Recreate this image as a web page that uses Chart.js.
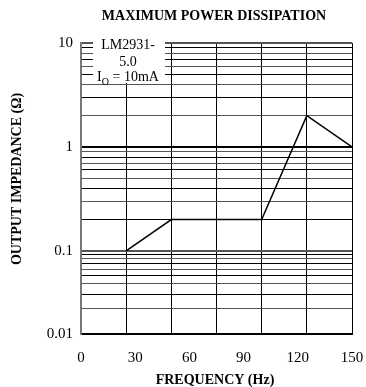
<!DOCTYPE html>
<html>
<head>
<meta charset="utf-8">
<script src="https://cdn.jsdelivr.net/npm/chart.js@4"></script>
<style>
  html, body { margin: 0; padding: 0; background: #fff; }
  #wrap { width: 366px; height: 387px; position: relative; }
</style>
</head>
<body>
<div id="wrap"><canvas id="chart"></canvas></div>
<script>
const frequency = [25, 50, 100, 125, 150];
const impedance = [0.1, 0.2, 0.2, 2, 1];
const xLabelTicks = [0, 30, 60, 90, 120, 150];
const xGridTicks = [0, 25, 50, 75, 100, 125, 150];
const yDecades = [0.01, 0.1, 1, 10];
const noteLines = ['LM2931-', '5.0', 'I_O = 10mA'];
const chartTitle = 'MAXIMUM POWER DISSIPATION';
const xTitle = 'FREQUENCY (Hz)';
const yTitle = 'OUTPUT IMPEDANCE (Ω)';

const serif = "'Liberation Serif', 'Times New Roman', serif";

// the printed graph squeezes its lowest decade (0.01 - 0.1) to 80% height
const squash = (v) => (v >= 0.1 ? v : Math.pow(10, -1 + 0.8 * (Math.log10(v) + 1)));
const yMin = squash(yDecades[0]);

// every 1..9 step inside each decade, for the log grid
const yGridTicks = [];
for (let d = 0; d < yDecades.length - 1; d++) {
  for (let m = 1; m < 10; m++) yGridTicks.push(squash(+(yDecades[d] * m).toPrecision(3)));
}
yGridTicks.push(yDecades[yDecades.length - 1]);

const near = (a, b) => Math.abs(a - b) < b * 1e-6;
const decadeLabel = (v) => {
  if (near(v, yMin)) return String(yDecades[0]);
  const d = yDecades.find((x) => near(v, x));
  return d ? String(d) : '';
};

const textPlugin = {
  id: 'texts',
  afterDatasetsDraw(chart) {
    const ctx = chart.ctx;
    const area = chart.chartArea;
    ctx.save();
    ctx.fillStyle = '#000';
    ctx.textAlign = 'center';
    ctx.textBaseline = 'middle';
    ctx.font = 'bold 14px ' + serif;
    ctx.fillText(chartTitle, 214, 16);
    ctx.fillText(xTitle, 215, 380);
    ctx.save();
    ctx.translate(17, 179);
    ctx.rotate(-Math.PI / 2);
    ctx.fillText(yTitle, 0, 0);
    ctx.restore();

    // note box in the top left corner of the plot
    ctx.fillStyle = '#fff';
    ctx.fillRect(93, 37, 72, 46);
    ctx.fillStyle = '#000';
    ctx.font = '14px ' + serif;
    ctx.fillText(noteLines[0], 128, 45);
    ctx.fillText(noteLines[1], 128, 62);
    // I with subscript O
    const parts = noteLines[2].split('_');
    const rest = parts[1].slice(1);
    ctx.textAlign = 'left';
    const wI = ctx.measureText(parts[0]).width;
    ctx.font = '10px ' + serif;
    const wO = ctx.measureText('O').width;
    ctx.font = '14px ' + serif;
    const wRest = ctx.measureText(rest).width;
    const x = 128 - (wI + wO + wRest) / 2;
    ctx.fillText(parts[0], x, 77);
    ctx.font = '10px ' + serif;
    ctx.fillText('O', x + wI, 82);
    ctx.font = '14px ' + serif;
    ctx.fillText(rest, x + wI + wO, 77);
    ctx.restore();
  }
};

new Chart(document.getElementById('chart'), {
  type: 'line',
  data: {
    datasets: [{
      data: frequency.map((f, i) => ({ x: f, y: impedance[i] })),
      borderColor: '#000',
      borderWidth: 1.5,
      pointRadius: 0,
      tension: 0,
      fill: false
    }]
  },
  options: {
    responsive: true,
    maintainAspectRatio: false,
    animation: false,
    layout: { padding: { left: 0, right: 14, top: 43, bottom: 0 } },
    plugins: {
      legend: { display: false },
      tooltip: { enabled: false },
      title: { display: false }
    },
    scales: {
      x: {
        type: 'linear',
        position: 'bottom',
        min: 0,
        max: 150,
        afterBuildTicks: (scale) => { scale.ticks = xGridTicks.map((v) => ({ value: v })); },
        ticks: { display: false },
        grid: { color: '#000', lineWidth: 1, drawTicks: false },
        border: { color: '#000', width: 2 },
        afterFit: (scale) => { scale.height = 0; scale.paddingLeft = 0; scale.paddingRight = 0; }
      },
      x2: {
        type: 'linear',
        position: 'bottom',
        min: 0,
        max: 150,
        afterBuildTicks: (scale) => { scale.ticks = xLabelTicks.map((v) => ({ value: v })); },
        ticks: { color: '#000', font: { family: serif, size: 15 }, padding: 15, maxRotation: 0 },
        grid: { display: false, drawTicks: false },
        border: { display: false },
        afterFit: (scale) => { scale.height = 53; scale.paddingLeft = 0; scale.paddingRight = 0; }
      },
      y: {
        type: 'logarithmic',
        min: yMin,
        max: yDecades[yDecades.length - 1],
        afterBuildTicks: (scale) => { scale.ticks = yGridTicks.map((v) => ({ value: v })); },
        ticks: {
          color: '#000',
          font: { family: serif, size: 15 },
          padding: 8,
          autoSkip: false,
          callback: (v) => decadeLabel(v)
        },
        grid: {
          color: (c) => (c.index % 2 ? '#555' : '#000'),
          lineWidth: (c) => (decadeLabel(c.tick.value) ? 2 : 1),
          drawTicks: false
        },
        border: { color: '#777', width: 2 },
        afterFit: (scale) => { scale.width = 81; scale.paddingTop = 0; scale.paddingBottom = 0; }
      }
    }
  },
  plugins: [textPlugin]
});
</script>
</body>
</html>
